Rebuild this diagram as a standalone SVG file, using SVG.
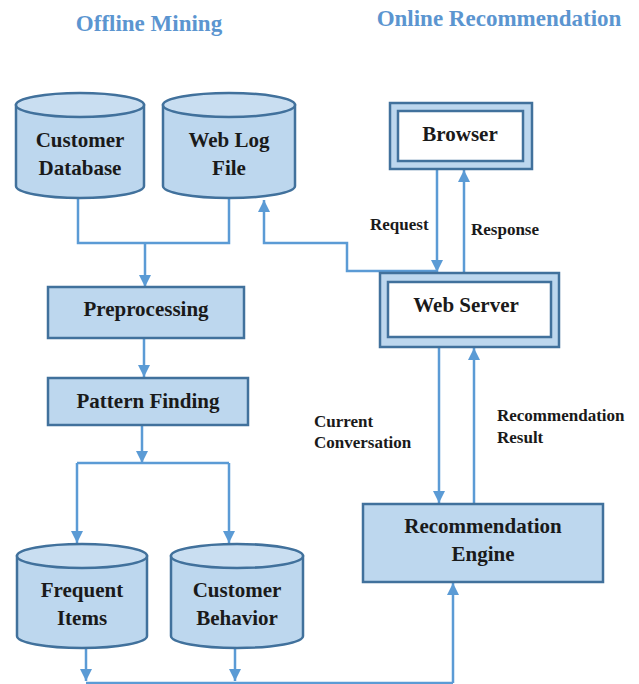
<svg xmlns="http://www.w3.org/2000/svg" width="639" height="684" viewBox="0 0 639 684">
<defs>
<style>
.t{font-family:"Liberation Serif","Times New Roman",serif;font-weight:bold;fill:#1a1a1a;text-anchor:middle}
.n{font-size:21px}
.l{font-size:17px;text-anchor:start}
.h{font-family:"Liberation Serif","Times New Roman",serif;font-weight:bold;font-size:23px;fill:#5B95D0;text-anchor:middle}
.box{fill:#BDD7EE;stroke:#41719C;stroke-width:2.5}
.inner{fill:#ffffff;stroke:#41719C;stroke-width:2.5}
.cyl{fill:#BDD7EE;stroke:#41719C;stroke-width:2.5}
.top{fill:#C9DEF1;stroke:#41719C;stroke-width:2.5}
.c{fill:none;stroke:#5B9BD5;stroke-width:2.5}
.a{marker-end:url(#ah)}
</style>
<marker id="ah" markerUnits="userSpaceOnUse" markerWidth="12" markerHeight="12" viewBox="0 0 12 12" refX="12" refY="6" orient="auto">
<path d="M0,0 L12,6 L0,12 Z" fill="#5B9BD5"/>
</marker>
</defs>
<rect width="639" height="684" fill="#ffffff"/>
<text class="h" x="149" y="31">Offline Mining</text>
<text class="h" x="499" y="26">Online Recommendation</text>

<g id="connectors">
<path class="c" d="M78,198 V243 H229 V198"/>
<path class="c a" d="M145,243 V287"/>
<path class="c a" d="M437,271 H347 V243 H264 V200"/>
<path class="c a" d="M144,338 V377"/>
<path class="c a" d="M142,425 V463"/>
<path class="c" d="M142,463 H77 M142,463 H229"/>
<path class="c a" d="M77,463 V543"/>
<path class="c a" d="M229,463 V543"/>
<path class="c a" d="M437,169 V272"/>
<path class="c a" d="M464,273 V170"/>
<path class="c a" d="M439,347 V503"/>
<path class="c a" d="M474,504 V348"/>
<path class="c a" d="M86,648 V681"/>
<path class="c a" d="M235,648 V681"/>
<path class="c" d="M86,683 H453"/>
<path class="c a" d="M453,683 V583"/>
</g>

<g id="customer-database">
<path class="cyl" d="M16,105 V186 A64,12 0 0 0 144,186 V105 Z"/>
<ellipse class="top" cx="80" cy="105" rx="64" ry="12"/>
<text class="t n" x="80" y="147">Customer</text>
<text class="t n" x="80" y="175">Database</text>
</g>
<g id="web-log-file">
<path class="cyl" d="M163,105 V186 A66,12 0 0 0 295,186 V105 Z"/>
<ellipse class="top" cx="229" cy="105" rx="66" ry="12"/>
<text class="t n" x="229" y="147">Web Log</text>
<text class="t n" x="229" y="175">File</text>
</g>
<g id="preprocessing">
<rect class="box" x="48" y="287" width="196" height="51"/>
<text class="t n" x="146" y="316">Preprocessing</text>
</g>
<g id="pattern-finding">
<rect class="box" x="48" y="378" width="200" height="47"/>
<text class="t n" x="148" y="408">Pattern Finding</text>
</g>
<g id="frequent-items">
<path class="cyl" d="M17,556 V636 A65,12 0 0 0 147,636 V556 Z"/>
<ellipse class="top" cx="82" cy="556" rx="65" ry="12"/>
<text class="t n" x="82" y="597">Frequent</text>
<text class="t n" x="82" y="625">Items</text>
</g>
<g id="customer-behavior">
<path class="cyl" d="M171,556 V636 A66,12 0 0 0 303,636 V556 Z"/>
<ellipse class="top" cx="237" cy="556" rx="66" ry="12"/>
<text class="t n" x="237" y="597">Customer</text>
<text class="t n" x="237" y="625">Behavior</text>
</g>
<g id="browser">
<rect class="box" x="390" y="103" width="142" height="66"/>
<rect class="inner" x="398" y="111" width="125" height="50"/>
<text class="t n" x="460" y="141">Browser</text>
</g>
<g id="web-server">
<rect class="box" x="380" y="273" width="179" height="74"/>
<rect class="inner" x="388" y="282" width="163" height="55"/>
<text class="t n" x="466" y="312">Web Server</text>
</g>
<g id="recommendation-engine">
<rect class="box" x="363" y="504" width="240" height="78"/>
<text class="t n" x="483" y="533">Recommendation</text>
<text class="t n" x="483" y="561">Engine</text>
</g>
<g id="labels">
<text class="t l" x="370" y="230">Request</text>
<text class="t l" x="471" y="235">Response</text>
<text class="t l" x="314" y="427">Current</text>
<text class="t l" x="314" y="448">Conversation</text>
<text class="t l" x="497" y="421">Recommendation</text>
<text class="t l" x="497" y="443">Result</text>
</g>
</svg>
